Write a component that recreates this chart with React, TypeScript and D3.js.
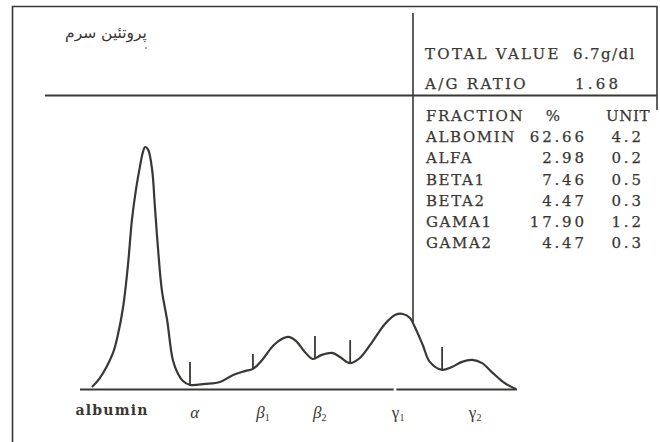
import React from "react";
import * as d3 from "d3";

// Densitometric trace of serum protein electrophoresis (relative units)
const mobility = [2.7, 4.5, 7.5, 8.6, 9.8, 10.9, 11.8, 12.7, 13.6, 14.3, 14.8, 15.5, 16.4, 17.0, 17.7, 18.6, 19.8, 21.1, 22.3, 23.4, 25.0, 28.4, 31.8, 34.8, 37.5, 39.3, 41.4, 44.3, 47.3, 49.1, 51.1, 52.9, 54.8, 57.3, 59.1, 61.4, 63.6, 66.4, 69.3, 71.6, 73.4, 75.0, 76.1, 77.9, 79.5, 82.3, 84.5, 86.8, 89.1, 91.4, 93.6, 95.9, 97.7, 99.1];
const density = [0.8, 4.5, 14.9, 22.3, 33.9, 51.2, 69.8, 82.2, 91.7, 97.9, 100, 98.8, 90.5, 76, 58.7, 40.9, 28.5, 12, 6.2, 3.3, 1.7, 2.1, 2.9, 5.8, 7.4, 8.3, 12, 18.6, 21.5, 19.8, 15.3, 12.4, 14, 14.9, 13.2, 10.7, 12.8, 19.4, 26.9, 30.6, 31, 29.3, 25.6, 18.2, 11.2, 7.9, 9.1, 11.2, 12, 10.7, 7, 3.3, 1.2, 0];

// fraction cut marks: position, curve level, top of mark
const cutPos = [25.0, 39.3, 53.4, 61.4, 82.3];
const cutLow = [1.7, 8.3, 12.6, 10.7, 7.9];
const cutTop = [11.2, 14.5, 21.9, 20.2, 17.4];

const fractionLabels = ["albumin", "α", "β", "β", "γ", "γ"];
const fractionSubs = ["", "", "1", "2", "1", "2"];
const labelPos = [7.3, 26.1, 41.6, 54.5, 72.3, 89.8];

const tableNames = ["ALBOMIN", "ALFA", "BETA1", "BETA2", "GAMA1", "GAMA2"];
const tablePct = ["62.66", "2.98", "7.46", "4.47", "17.90", "4.47"];
const tableUnit = ["4.2", "0.2", "0.5", "0.3", "1.2", "0.3"];

const title = "پروتئین سرم";
const totalValue = "6.7g/dl";
const agRatio = "1.68";

export default function App() {
  const W = 660, H = 442;
  const x = d3.scaleLinear().domain([0, 100]).range([80, 520]);
  const y = d3.scaleLinear().domain([0, 100]).range([389, 147]);
  const pts: [number, number][] = mobility.map((m, i) => [m, density[i]]);
  const line = d3
    .line<[number, number]>()
    .x((d) => x(d[0]))
    .y((d) => y(d[1]))
    .curve(d3.curveCatmullRom.alpha(0.5));

  const ink = "#3a3835";
  const txt = "#3a3733";
  const serif = "'DejaVu Serif', 'Liberation Serif', serif";
  const rowY = [141.7, 163.3, 184.6, 206, 227, 248];
  const ns = 2.8; // number letter spacing

  return (
    <svg
      width={W}
      height={H}
      style={{ position: "absolute", left: 0, top: 0, background: "#fff" }}
    >
      {/* frame */}
      <path
        d={`M12.5,442 L12.5,6.5 L657,6.5 L657,110`}
        fill="none"
        stroke={ink}
        strokeWidth={1.6}
      />
      {/* dividers */}
      <line x1={45} x2={657} y1={95.5} y2={95.5} stroke={ink} strokeWidth={2} />
      <line x1={413} x2={413} y1={13} y2={322} stroke={ink} strokeWidth={1.6} />

      {/* title */}
      <text
        x={106}
        y={38}
        textAnchor="middle"
        fontFamily="'DejaVu Sans', 'Noto Sans', sans-serif"
        fontSize={15.5}
        fill={txt}
      >
        {title}
      </text>
      <circle cx={146} cy={48} r={0.8} fill={txt} />

      {/* header info */}
      <g
        fontFamily={serif}
        fontSize={15}
        fill={txt}
        stroke={txt}
        strokeWidth={0.25}
        letterSpacing={1.6}
      >
        <text x={425} y={59} letterSpacing={2.3}>TOTAL VALUE</text>
        <text x={573} y={59} letterSpacing={1.4}>{totalValue}</text>
        <text x={425} y={89} letterSpacing={2.3}>A/G RATIO</text>
        <text x={575} y={89} letterSpacing={3.2}>{agRatio}</text>

        <text x={426} y={120.7}>FRACTION</text>
        <text x={553} y={120.7} textAnchor="middle" letterSpacing={0}>%</text>
        <text x={606} y={120.7} letterSpacing={0.6}>UNIT</text>
        {tableNames.map((n, i) => (
          <g key={n}>
            <text x={426} y={rowY[i]}>{n}</text>
            <text x={584 + ns} y={rowY[i]} textAnchor="end" letterSpacing={ns}>
              {tablePct[i]}
            </text>
            <text x={641 + ns} y={rowY[i]} textAnchor="end" letterSpacing={ns}>
              {tableUnit[i]}
            </text>
          </g>
        ))}
      </g>

      {/* baseline */}
      <line x1={x(0)} x2={x(71.3)} y1={y(0) + 0.5} y2={y(0) + 0.5} stroke={ink} strokeWidth={1.8} />
      <line x1={x(71.9)} x2={x(99.3)} y1={y(0) + 0.5} y2={y(0) + 0.5} stroke={ink} strokeWidth={1.8} />

      {/* trace */}
      <path d={line(pts) || ""} fill="none" stroke={ink} strokeWidth={2.2} strokeLinejoin="round" />

      {/* cut marks */}
      {cutPos.map((p, i) => (
        <line
          key={i}
          x1={x(p)}
          x2={x(p)}
          y1={y(cutLow[i])}
          y2={y(cutTop[i])}
          stroke={ink}
          strokeWidth={1.8}
        />
      ))}

      {/* fraction labels */}
      {fractionLabels.map((l, i) =>
        i === 0 ? (
          <text
            key={i}
            x={x(labelPos[i])}
            y={415}
            textAnchor="middle"
            fontFamily={serif}
            fontSize={14}
            fontWeight="bold"
            letterSpacing={1.2}
            fill={txt}
          >
            {l}
          </text>
        ) : (
          <text
            key={i}
            x={x(labelPos[i])}
            y={418}
            textAnchor="middle"
            fontFamily="'Liberation Serif', serif"
            fontSize={17}
            fontStyle={l === "γ" ? "normal" : "italic"}
            fill={txt}
          >
            {l}
            {fractionSubs[i] && (
              <tspan fontSize={10} dy={3} fontStyle="normal">
                {fractionSubs[i]}
              </tspan>
            )}
          </text>
        )
      )}
    </svg>
  );
}
